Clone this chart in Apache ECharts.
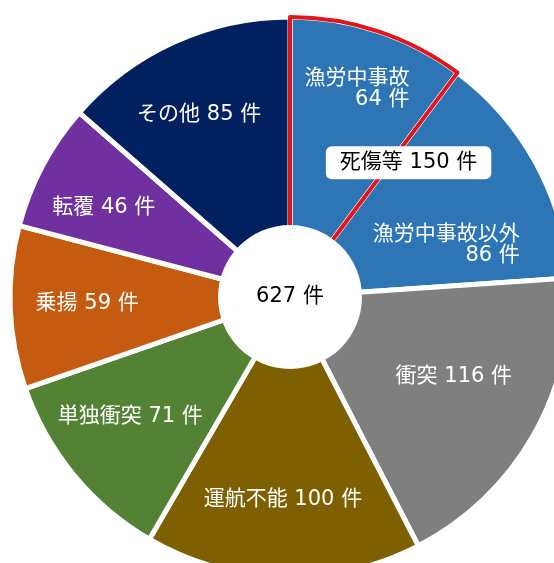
<!DOCTYPE html>
<html>
<head>
<meta charset="UTF-8">
<title>事故種類別</title>
<script src="https://cdn.jsdelivr.net/npm/echarts@6/dist/echarts.min.js"></script>
<style>
    html, body { margin: 0; padding: 0; background: #fff; }
    #main { width: 554px; height: 563px; }
</style>
</head>
<body>
<div id="main"></div>
<script>
// data
var categories = ['漁労中事故', '漁労中事故以外', '衝突', '運航不能', '単独衝突', '乗揚', '転覆', 'その他'];
var counts = [64, 86, 116, 100, 71, 59, 46, 85];
var groupName = '死傷等';      // covers the first two slices
var groupCount = 2;
var unit = '件';

// style
var colors = ['#2e75b6', '#2e75b6', '#7f7f7f', '#7f6000', '#548235', '#c55a11', '#7030a0', '#002060'];
var twoLine = [true, true, false, false, false, false, false, false];
var labelShift = [[3, -15], [-22, 45], [-13, -20], [-2, 0], [-3, -10], [0, -1], [-7, 6], [-7, 2]];
var FONT = '"DejaVu Sans", "Noto Sans CJK JP", sans-serif';

var center = [290, 297];
var outerR = 280;
var holeR = 72;

var total = counts.reduce(function (a, b) { return a + b; }, 0);
var groupValue = counts.slice(0, groupCount).reduce(function (a, b) { return a + b; }, 0);

var chart = echarts.init(document.getElementById('main'));

var base = {
    type: 'pie',
    center: center,
    startAngle: 90,
    clockwise: true,
    silent: true,
    animation: false
};

var option = {
    backgroundColor: '#fff',
    series: [
        // slices
        Object.assign({}, base, {
            radius: [0, outerR],
            label: { show: false },
            labelLine: { show: false },
            itemStyle: { borderColor: '#fff', borderWidth: 5 },
            data: counts.map(function (v, i) {
                return { name: categories[i], value: v, itemStyle: { color: colors[i] } };
            })
        }),
        // red outline of the first slice
        Object.assign({}, base, {
            radius: [0, outerR],
            label: { show: false },
            labelLine: { show: false },
            data: counts.map(function (v, i) {
                return {
                    name: categories[i], value: v,
                    itemStyle: i === 0
                        ? { color: 'rgba(0,0,0,0)', borderColor: '#e3141c', borderWidth: 4 }
                        : { color: 'rgba(0,0,0,0)', borderWidth: 0 }
                };
            })
        }),
        // hole with total
        Object.assign({}, base, {
            radius: [0, holeR],
            itemStyle: { color: '#fff', borderWidth: 0 },
            label: {
                show: true,
                position: 'center',
                formatter: total + ' ' + unit,
                color: '#000',
                fontSize: 21,
                fontFamily: FONT
            },
            labelLine: { show: false },
            data: [{ name: '合計', value: total }]
        }),
        // group label
        Object.assign({}, base, {
            radius: [76, outerR],
            itemStyle: { color: 'rgba(0,0,0,0)', borderWidth: 0 },
            labelLine: { show: false },
            label: {
                show: true,
                position: 'inside',
                formatter: '{b} {c} ' + unit,
                color: '#000',
                fontSize: 21,
                fontFamily: FONT,
                backgroundColor: '#fff',
                borderRadius: 6,
                padding: [5, 14],
                lineHeight: 23
            },
            labelLayout: function () {
                return { dx: -5, dy: -2 };
            },
            data: [
                { name: groupName, value: groupValue },
                { name: '', value: total - groupValue, label: { show: false } }
            ]
        }),
        // slice labels
        Object.assign({}, base, {
            radius: [120, outerR],
            itemStyle: { color: 'rgba(0,0,0,0)', borderWidth: 0 },
            labelLine: { show: false },
            label: {
                show: true,
                position: 'inside',
                color: '#fff',
                fontSize: 21,
                fontFamily: FONT,
                lineHeight: 21,
                formatter: function (p) {
                    if (twoLine[p.dataIndex]) {
                        return '{a|' + p.name + '}\n{r|' + p.value + ' ' + unit + '}';
                    }
                    return p.name + ' ' + p.value + ' ' + unit;
                },
                rich: {
                    a: { color: '#fff', fontSize: 21, fontFamily: FONT, lineHeight: 21 },
                    r: { color: '#fff', fontSize: 21, fontFamily: FONT, lineHeight: 21, align: 'right' }
                }
            },
            labelLayout: function (p) {
                return { dx: labelShift[p.dataIndex][0], dy: labelShift[p.dataIndex][1] };
            },
            data: counts.map(function (v, i) {
                return { name: categories[i], value: v };
            })
        })
    ]
};

chart.setOption(option);
</script>
</body>
</html>
